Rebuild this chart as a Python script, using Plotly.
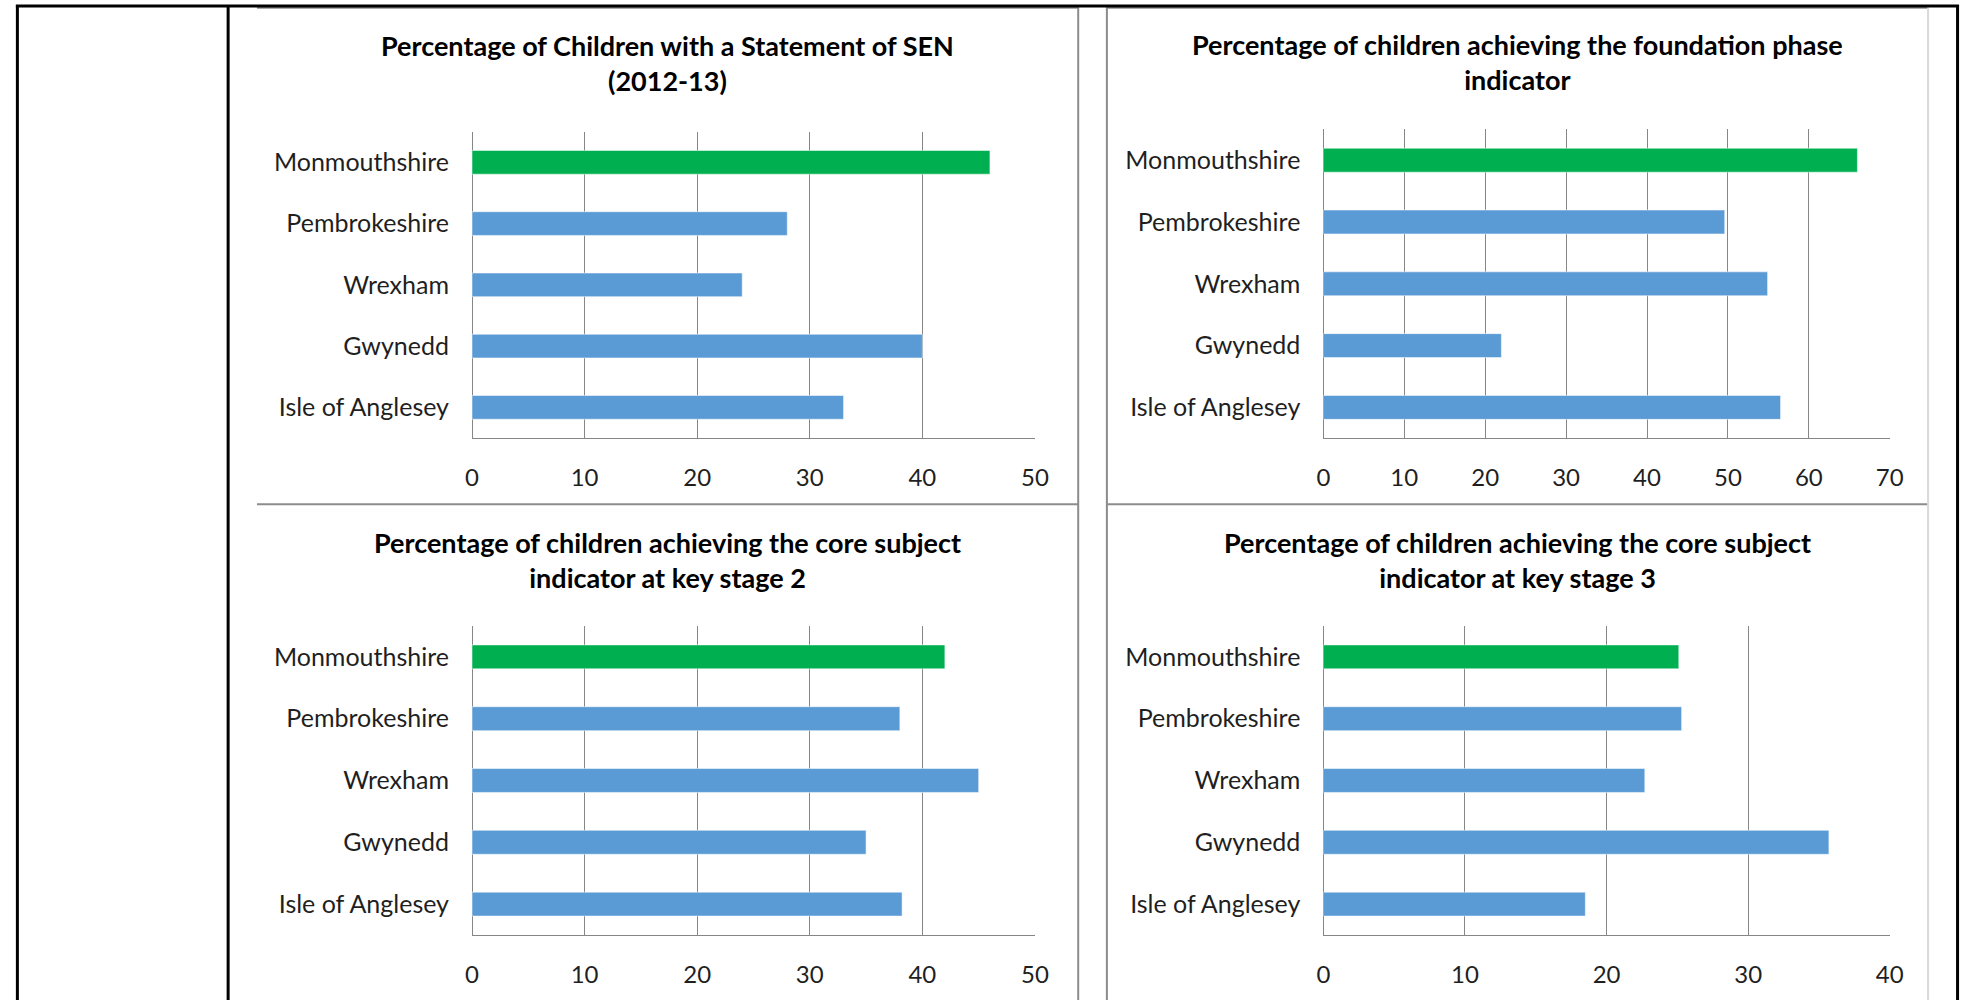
import plotly.graph_objects as go

W, H = 1977, 1000

regions = ["Monmouthshire", "Pembrokeshire", "Wrexham", "Gwynedd", "Isle of Anglesey"]
sen_statement = [46, 28, 24, 40, 33]
foundation_phase = [66, 49.6, 54.9, 22, 56.5]
core_ks2 = [42, 38, 45, 35, 38.2]
core_ks3 = [25.1, 25.3, 22.7, 35.7, 18.5]

titles = [
    "Percentage of Children with a Statement of SEN<br>(2012-13)",
    "Percentage of children achieving the foundation phase<br>indicator",
    "Percentage of children achieving the core subject<br>indicator at key stage 2",
    "Percentage of children achieving the core subject<br>indicator at key stage 3",
]
x_max = [50, 70, 50, 40]
highlight = "Monmouthshire"

GREEN = "#00B050"
BLUE = "#5B9BD5"
GRID = "#868686"
TEXT = "#1f1f1f"
FONT = "Lato"


def px_x(v):
    return v / W


def px_y(v):
    return 1 - v / H


# plot-area pixel boxes: (left, right, top, bottom)
boxes = [
    (470, 1039, 131.7, 438),
    (1330.5, 1903, 129.3, 438.3),
    (470, 1039, 626, 935),
    (1330.5, 1903, 626, 935),
]
title_y = [62.5, 61.5, 559.5, 559.5]
title_x = [667.7, 1526.7, 667.7, 1526.7]

series = [sen_statement, foundation_phase, core_ks2, core_ks3]

fig = go.Figure()
layout = {}
for i, (vals, box) in enumerate(zip(series, boxes)):
    n = "" if i == 0 else str(i + 1)
    colors = [GREEN if r == highlight else BLUE for r in regions]
    fig.add_trace(go.Bar(
        x=vals, y=regions, orientation="h",
        marker=dict(color=colors, line=dict(color="rgba(255,255,255,0.5)", width=1)),
        xaxis="x" + n, yaxis="y" + n, showlegend=False,
        hoverinfo="x+y",
    ))
    l, r, t, b = box
    layout["xaxis" + n] = dict(
        domain=[px_x(l), px_x(r)], anchor="y" + n,
        range=[0, x_max[i]], dtick=10, tick0=0,
        showgrid=True, gridcolor=GRID, gridwidth=1,
        zeroline=True, zerolinecolor=GRID, zerolinewidth=1,
        showline=True, linecolor=GRID, linewidth=1,
        ticks="", ticklabelstandoff=18,
        tickfont=dict(family=FONT, size=24, color=TEXT),
        fixedrange=True,
    )
    layout["yaxis" + n] = dict(
        domain=[px_y(b), px_y(t)], anchor="x" + n,
        categoryorder="array", categoryarray=regions[::-1],
        range=[-0.5, len(regions) - 0.5],
        showgrid=False, zeroline=False, showline=False,
        ticks="", ticklabelstandoff=22,
        tickfont=dict(family=FONT, size=25, color=TEXT),
        fixedrange=True,
    )

annotations = []
for i in range(4):
    annotations.append(dict(
        text="<b>" + titles[i] + "</b>",
        x=px_x(title_x[i]), y=px_y(title_y[i]), xref="paper", yref="paper",
        xanchor="center", yanchor="middle", showarrow=False,
        font=dict(family=FONT, size=27, color="#000000"),
    ))


def hline(y, x0, x1, color, width):
    return dict(type="line", xref="paper", yref="paper",
                x0=px_x(x0), x1=px_x(x1), y0=px_y(y), y1=px_y(y),
                line=dict(color=color, width=width), layer="above")


def vline(x, y0, y1, color, width):
    return dict(type="line", xref="paper", yref="paper",
                x0=px_x(x), x1=px_x(x), y0=px_y(y0), y1=px_y(y1),
                line=dict(color=color, width=width), layer="above")


PANEL = "#8C8C8C"
shapes = [
    # panel borders
    hline(7.8, 252.7, 1082.7, PANEL, 2),
    hline(7.8, 1111.7, 1941.7, PANEL, 2),
    hline(504.3, 252.7, 1082.7, PANEL, 2),
    hline(504.3, 1111.7, 1941.7, PANEL, 2),
    vline(1082.7, 7, 1000, PANEL, 2),
    vline(1111.7, 7, 1000, PANEL, 2),
    vline(1941.7, 7, 1000, "#D9D9D9", 2),
    # table borders
    hline(6, 9, 1973, "#000000", 3),
    vline(10.5, 5, 1000, "#000000", 3),
    vline(223.5, 5, 1000, "#000000", 3),
    vline(1971.5, 5, 1000, "#000000", 3),
]

fig.update_layout(
    width=W, height=H, autosize=False,
    margin=dict(l=0, r=0, t=0, b=0),
    paper_bgcolor="white", plot_bgcolor="white",
    bargap=0.613,
    annotations=annotations, shapes=shapes,
    font=dict(family=FONT),
    **layout,
)

fig.write_html(
    "out.html",
    config={"displayModeBar": False},
    post_script="document.body.style.margin='0';document.body.style.overflow='hidden';",
)
